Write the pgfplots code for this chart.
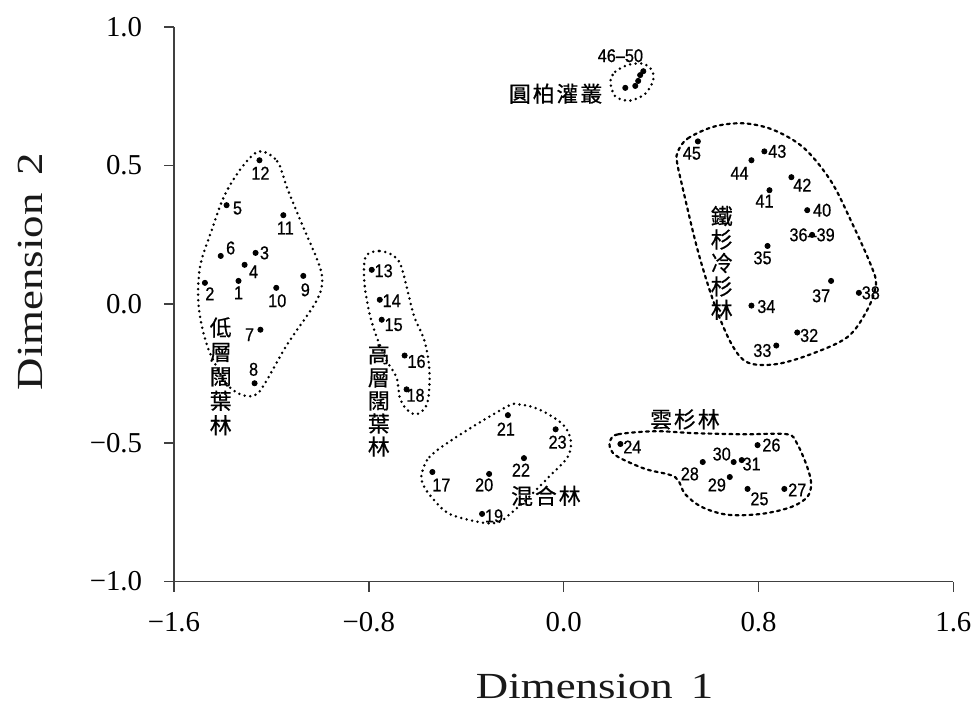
\documentclass[border=0pt]{standalone}
\usepackage{fontspec}
\usepackage{pgfplots}
\usepackage{pgfplotstable}
\pgfplotsset{compat=1.18}
\setmainfont{Liberation Serif}
\newfontfamily\labfont[FakeStretch=1.22]{Liberation Serif}
\newfontfamily\numfont[FakeStretch=0.88, FakeBold=0.6]{Liberation Sans}
\newfontfamily\cjk[FakeBold=0.6]{Noto Sans CJK TC}
\newfontfamily\cjkh[LetterSpace=9, FakeBold=0.6]{Noto Sans CJK TC}

% ordination scores of the 50 plots; lx/ly shift each plot number (pt)
\pgfplotstableread{
x       y       lx     ly     lab
-1.335   0.084   0     -6     1
-1.473   0.077   2.5   -5.5   2
-1.265   0.185   4.5    0     3
-1.310   0.142   4.5   -3.5   4
-1.384   0.357   5.5   -1.5   5
-1.408   0.174   5      4     6
-1.245  -0.092  -5.5   -2.5   7
-1.269  -0.285  -0.5    7     8
-1.069   0.102   1     -7     9
-1.180   0.059   0.5   -6.5   10
-1.151   0.321   1     -6.5   11
-1.249   0.519   0.5   -6.5   12
-0.788   0.124   6     -0.5   13
-0.755   0.016   6     -0.5   14
-0.747  -0.056   6     -2.5   15
-0.653  -0.185   6     -3     16
-0.539  -0.605   4.5   -6.5   17
-0.645  -0.307   4.5   -3     18
-0.335  -0.756   6     -1     19
-0.306  -0.612  -2.5   -5.5   20
-0.229  -0.400  -1     -7     21
-0.163  -0.555  -1.5   -6     22
-0.033  -0.451   1     -6.5   23
 0.233  -0.504   6     -1.5   24
 0.755  -0.666   6     -5     25
 0.796  -0.508   7      0     26
 0.906  -0.666   6.5   -0.5   27
 0.571  -0.569  -6.5   -6     28
 0.682  -0.623  -6.5   -4     29
 0.698  -0.569  -6      4     30
 0.731  -0.562   5     -2     31
 0.959  -0.102   6     -1.5   32
 0.873  -0.149  -7     -2.5   33
 0.771  -0.005   7.5   -0.5   34
 0.837   0.210  -2.5   -6     35
 1.020   0.250   0      0     36–39
 1.098   0.084  -5     -7.5   37
 1.212   0.041   6      0     38
 1.000   0.339   7.5    0     40
 0.845   0.411  -2.5   -5.5   41
 0.935   0.458   5.5   -4     42
 0.824   0.551   6.5    0     43
 0.771   0.519  -6     -6.5   44
 0.551   0.587  -3     -6     45
}\sites

% plots 46-50 (juniper shrubland) overlap
\pgfplotstableread{
x       y
 0.314   0.826
 0.327   0.840
 0.306   0.805
 0.294   0.787
 0.253   0.780
}\shrub

\tikzset{
  hull/.style={black, line width=1.4pt, line cap=round,
    dash pattern=on 0pt off 2.8pt, smooth cycle, tension=0.55},
  hulld/.style={black, line width=1.1pt, line cap=round,
    dash pattern=on 1.5pt off 2.0pt, smooth cycle, tension=0.55},
  grp/.style={font=\cjk\fontsize{11}{12}\selectfont, align=center,
    inner sep=0pt, text=black},
  grph/.style={font=\cjkh\fontsize{11}{12}\selectfont,
    inner sep=0pt, text=black},
}

\begin{document}
\begin{tikzpicture}
\begin{axis}[
  scale only axis, width=392pt, height=279pt,
  xmin=-1.6, xmax=1.6, ymin=-1, ymax=1,
  axis x line*=bottom, axis y line*=left,
  axis line style={black!75, line width=0.8pt},
  tick style={black!75, line width=0.8pt},
  tick align=outside, major tick length=5pt,
  xtick={-1.6,-0.8,0,0.8,1.6},
  xticklabels={−1.6,−0.8,0.0,0.8,1.6},
  ytick={-1,-0.5,0,0.5,1},
  yticklabels={−1.0,−0.5,0.0,0.5,1.0},
  ticklabel style={font=\fontsize{14.5}{16}\selectfont, text=black},
  xticklabel style={yshift=-7pt},
  yticklabel style={xshift=-7.5pt},
  xlabel={Dimension\hspace{9pt}1},
  ylabel={Dimension\hspace{9pt}2},
  label style={font=\labfont\fontsize{18.5}{20}\selectfont, text=black!90},
  xlabel style={at={(axis cs:0.127,-1.377)}, anchor=center},
  ylabel style={at={(axis cs:-2.188,0.117)}, anchor=center},
  clip=false,
]

% group outlines
\addplot[hull] coordinates {
  (-1.249,0.551) (-1.176,0.515) (-1.135,0.418) (-1.073,0.286) (-1.004,0.142)
  (-0.992,0.070) (-1.024,-0.002) (-1.135,-0.145) (-1.229,-0.289) (-1.269,-0.329)
  (-1.327,-0.325) (-1.388,-0.282) (-1.461,-0.156) (-1.498,-0.013) (-1.494,0.131)
  (-1.449,0.257) (-1.392,0.393) (-1.318,0.497)};
\addplot[hull] coordinates {
  (-0.808,0.178) (-0.755,0.192) (-0.698,0.174) (-0.665,0.131) (-0.616,-0.038)
  (-0.576,-0.120) (-0.555,-0.203) (-0.551,-0.289) (-0.563,-0.364) (-0.604,-0.397)
  (-0.645,-0.379) (-0.673,-0.336) (-0.686,-0.264) (-0.727,-0.203) (-0.767,-0.120)
  (-0.796,-0.038) (-0.816,0.059) (-0.820,0.131)};
\addplot[hull] coordinates {
  (-0.584,-0.616) (-0.551,-0.551) (-0.441,-0.479) (-0.237,-0.371) (-0.188,-0.361)
  (-0.102,-0.379) (-0.004,-0.433) (0.029,-0.490) (0.016,-0.551) (-0.061,-0.623)
  (-0.155,-0.706) (-0.224,-0.759) (-0.265,-0.785) (-0.331,-0.788) (-0.469,-0.756)
  (-0.543,-0.695) (-0.576,-0.652)};
\addplot[hulld] coordinates {
  (0.192,-0.490) (0.224,-0.469) (0.376,-0.458) (0.539,-0.465) (0.743,-0.469)
  (0.918,-0.469) (0.959,-0.504) (1.000,-0.587) (1.016,-0.648) (1.000,-0.695)
  (0.935,-0.731) (0.812,-0.756) (0.673,-0.759) (0.567,-0.731) (0.498,-0.684)
  (0.457,-0.623) (0.335,-0.594) (0.224,-0.551) (0.192,-0.522)};
\addplot[hulld] coordinates {
  (0.469,0.551) (0.510,0.598) (0.620,0.641) (0.743,0.652) (0.865,0.627)
  (0.988,0.562) (1.098,0.443) (1.180,0.300) (1.261,0.142) (1.282,0.070)
  (1.245,-0.023) (1.163,-0.120) (1.000,-0.185) (0.865,-0.217) (0.755,-0.210)
  (0.690,-0.145) (0.620,-0.002) (0.551,0.192) (0.486,0.429) (0.465,0.515)};
\addplot[hull] coordinates {
  (0.192,0.803) (0.212,0.838) (0.265,0.863) (0.327,0.867) (0.363,0.842)
  (0.367,0.806) (0.335,0.759) (0.273,0.734) (0.212,0.749)};

% plots with their numbers
\addplot[only marks, mark=*, mark size=1.3pt, black,
  point meta=explicit symbolic,
  visualization depends on={\thisrow{lx}\as\labx},
  visualization depends on={\thisrow{ly}\as\laby},
  nodes near coords={\pgfplotspointmeta},
  every node near coord/.append style={font=\numfont\fontsize{9.3}{10}\selectfont,
    anchor=center, inner sep=0pt, xshift=\labx pt, yshift=\laby pt, text=black},
] table[x=x, y=y, meta=lab] {\sites};
\addplot[only marks, mark=*, mark size=1.3pt, black] table[x=x, y=y] {\shrub};

% vegetation types
\node[grp, font=\cjk\fontsize{11}{12.3}\selectfont] at (axis cs:-1.408,-0.260) {低\\層\\闊\\葉\\林};
\node[grp, font=\cjk\fontsize{11}{11.6}\selectfont] at (axis cs:-0.759,-0.347) {高\\層\\闊\\葉\\林};
\node[grp, font=\cjk\fontsize{11}{11.8}\selectfont] at (axis cs:0.649,0.149) {鐵\\杉\\冷\\杉\\林};
\node[grph] at (axis cs:-0.073,-0.691) {混合林};
\node[grph] at (axis cs:0.498,-0.415) {雲杉林};
\node[grph] at (axis cs:-0.033,0.759) {圓柏灌叢};
\node[font=\numfont\fontsize{9.3}{10}\selectfont, inner sep=0pt, text=black]
  at (axis cs:0.233,0.896) {46–50};

\path (rel axis cs:0,0) ++(-87.5pt,-64pt);
\path (rel axis cs:1,1) ++(9pt,13.5pt);
\end{axis}
\end{tikzpicture}
\end{document}
